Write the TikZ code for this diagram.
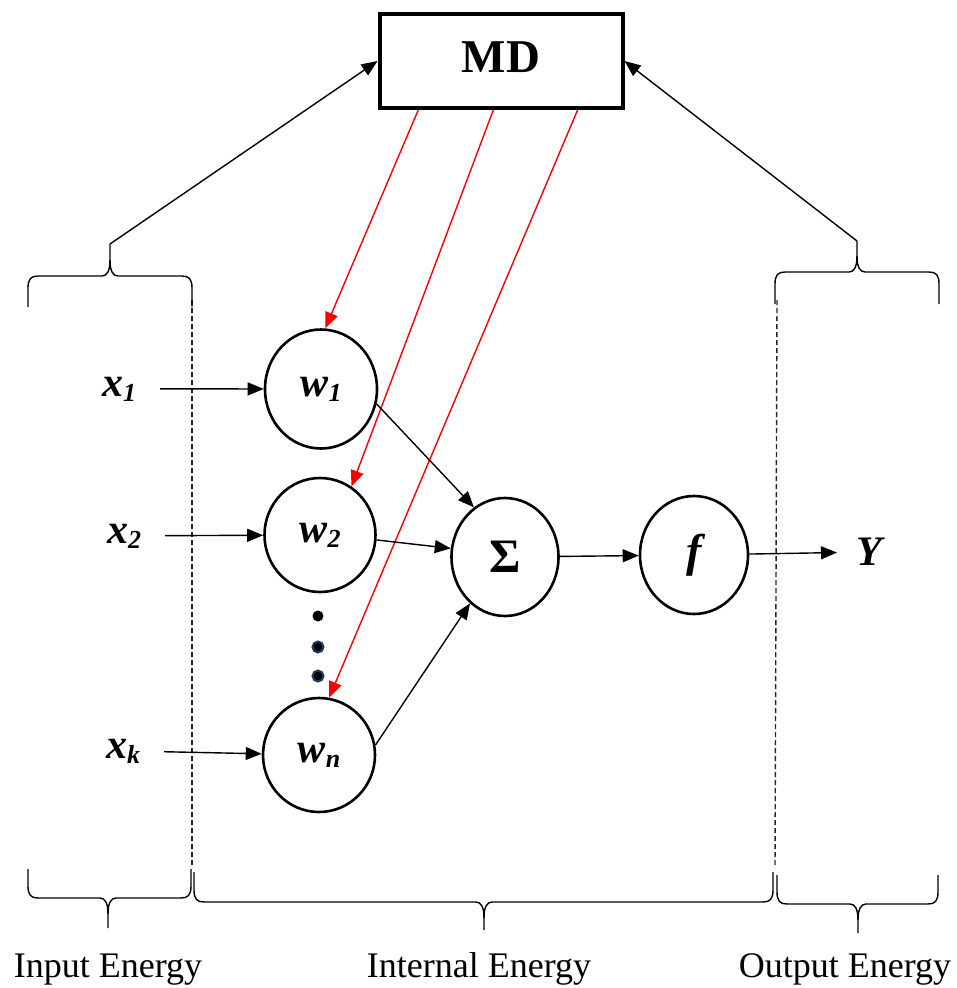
\documentclass[tikz,border=0pt]{standalone}
\usepackage{fontspec}
\setmainfont{Liberation Serif}
\usetikzlibrary{arrows.meta,shapes.geometric,calc}
\definecolor{dotblue}{HTML}{1F3864}
\newcommand\sbs[1]{\raisebox{-5pt}{\fontsize{26}{26}\selectfont #1}}
% horizontal brace: x1 x2 xm ybar yend ytip sign
\newcommand\hbr[7]{%
  \draw[brace] (#1,#5) -- (#1,{#4+12*#7}) .. controls (#1,{#4+3*#7}) and ({#1+3},#4) .. ({#1+10},#4)
    -- ({#3-8},#4) .. controls ({#3-3},#4) and (#3,{#4-5*#7}) .. (#3,{#4-16*#7}) -- (#3,#6);
  \draw[brace] (#3,{#4-16*#7}) .. controls (#3,{#4-5*#7}) and ({#3+3},#4) .. ({#3+8},#4)
    -- ({#2-10},#4) .. controls ({#2-3},#4) and (#2,{#4+3*#7}) .. (#2,{#4+12*#7}) -- (#2,#5);}
\begin{document}
\begin{tikzpicture}[x=1pt,y=-1pt,
  conn/.style={line width=1.4pt,-{Triangle[length=16pt,width=13pt]}},
  redconn/.style={conn,red},
  neuron/.style={draw,ellipse,line width=2.6pt,inner sep=0pt,font=\fontsize{42}{42}\selectfont\bfseries\itshape},
  inlab/.style={anchor=base,inner sep=2pt,font=\fontsize{42}{42}\selectfont\bfseries\itshape},
  brace/.style={line width=1.4pt,line join=round},
  sep/.style={line width=1.4pt,black!85,dash pattern=on 5pt off 3pt},
  caption/.style={anchor=base,inner sep=0pt,font=\fontsize{36}{36}\selectfont},
  dotnode/.style={circle,fill=black,inner sep=0pt,minimum size=11pt}
]
\useasboundingbox (0,0) rectangle (956,988);

% MD box
\node[draw,line width=4pt,minimum width=243pt,minimum height=94pt,text depth=8pt,
      font=\fontsize{47}{47}\selectfont\bfseries] (md) at (501,61) {MD};

% neurons
\node[neuron,minimum width=112pt,minimum height=119pt] (w1) at (321,389) {w\sbs{1}};
\node[neuron,minimum width=111pt,minimum height=114pt] (w2) at (320,535) {w\sbs{2}};
\node[neuron,minimum width=112pt,minimum height=114pt] (wn) at (319,755) {w\sbs{n}};
\node[neuron,minimum width=107pt,minimum height=118pt,font=\fontsize{48}{48}\selectfont\bfseries] (sigma) at (505,557) {Σ};
\node[neuron,minimum width=108pt,minimum height=118pt,font=\fontsize{46}{46}\selectfont\bfseries\itshape] (f) at (694,555) {f};

% dots
\node[dotnode] (d1) at (318,616) {};
\node[dotnode,draw=dotblue,line width=2pt] (d2) at (318,647) {};
\node[dotnode,draw=dotblue,line width=2pt] (d3) at (318,676) {};

% inputs and output labels
\node[inlab] (x1) at (119,396) {x\sbs{1}};
\node[inlab] (x2) at (124,543) {x\sbs{2}};
\node[inlab] (xk) at (123,758) {x\sbs{k}};
\node[inner sep=2pt,font=\fontsize{42}{42}\selectfont\bfseries\itshape] (Y) at (869,552) {Y};

% captions
\node[caption] (cin) at (108,977) {Input Energy};
\node[caption] (cint) at (479,977) {Internal Energy};
\node[caption] (cout) at (845,977) {Output Energy};

% dashed separators
\draw[sep] (192,300) -- (192,868);
\draw[sep] (777,300) -- (775,868);

% braces
\hbr{28}{192}{110}{276}{307}{244}{1}
\hbr{775}{939}{857}{272}{304}{241}{1}
\hbr{28}{191}{108}{898}{869}{928}{-1}
\hbr{194}{773}{484}{902}{872}{930}{-1}
\hbr{777}{938}{858}{904}{875}{933}{-1}
\coordinate (tl) at (110,244);
\coordinate (tr) at (857,241);

% arrows to MD
\draw[conn] (tl) -- (md.west);
\draw[conn] (tr) -- (md.east);

% red feedback arrows
\draw[redconn] ($(md.south west)!0.165!(md.south east)$) -- (w1.86);
\draw[redconn] ($(md.south west)!0.469!(md.south east)$) -- (w2.57);
\draw[redconn] ($(md.south west)!0.81!(md.south east)$) -- (wn.80);

% inputs
\draw[conn,shorten <=22pt] (x1) -- (w1);
\draw[conn,shorten <=22pt] (x2) -- (w2);
\draw[conn,shorten <=22pt] (xk) -- (wn);

% to sum
\draw[conn] (w1.-15) -- (sigma.122);
\draw[conn] (w2.-5) -- (sigma.171);
\draw[conn] (wn.10) -- (sigma.-127);
\draw[conn] (sigma) -- (f);
\draw[conn,shorten >=17pt] (f) -- (Y);
\end{tikzpicture}
\end{document}
